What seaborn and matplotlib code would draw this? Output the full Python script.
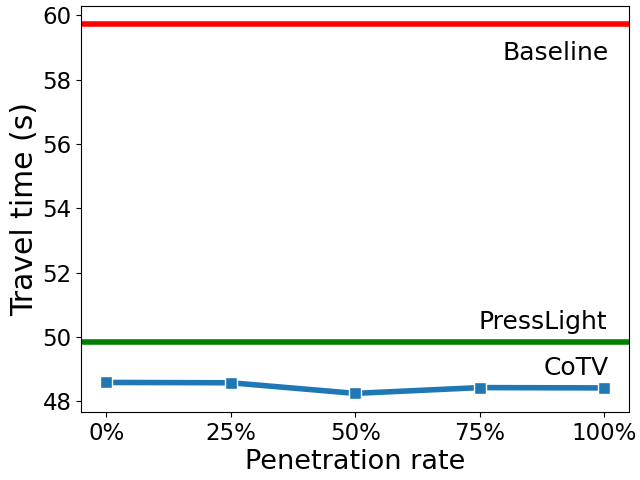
import matplotlib
matplotlib.use("Agg")
import matplotlib.pyplot as plt
import seaborn as sns
import pandas as pd

# data
rates = ["0%", "25%", "50%", "75%", "100%"]
cotv_time = [48.59, 48.58, 48.25, 48.43, 48.42]
baseline_time = 59.72
presslight_time = 49.85

df = pd.DataFrame({"rate": rates, "time": cotv_time})

fig, ax = plt.subplots(figsize=(6.4, 4.8), dpi=100)

sns.lineplot(data=df, x="rate", y="time", marker="s", markersize=8.5,
             linewidth=4, color="#1f77b4", markeredgecolor="white",
             markeredgewidth=1, sort=False, ax=ax)
ax.axhline(baseline_time, color="red", linewidth=4)
ax.axhline(presslight_time, color="green", linewidth=4)

# series labels
ax.text(4.04, 58.82, "Baseline", fontsize=18, ha="right", va="center")
ax.text(4.02, 50.47, "PressLight", fontsize=18, ha="right", va="center")
ax.text(4.04, 49.05, "CoTV", fontsize=18, ha="right", va="center")

ax.set_xlabel("Penetration rate", fontsize=19.5, labelpad=3)
ax.set_ylabel("Travel time (s)", fontsize=21.5, labelpad=2)
ax.tick_params(labelsize=16.5)

plt.subplots_adjust(left=0.127, right=0.983, top=0.988, bottom=0.142)
plt.savefig("out.png", dpi=100)
